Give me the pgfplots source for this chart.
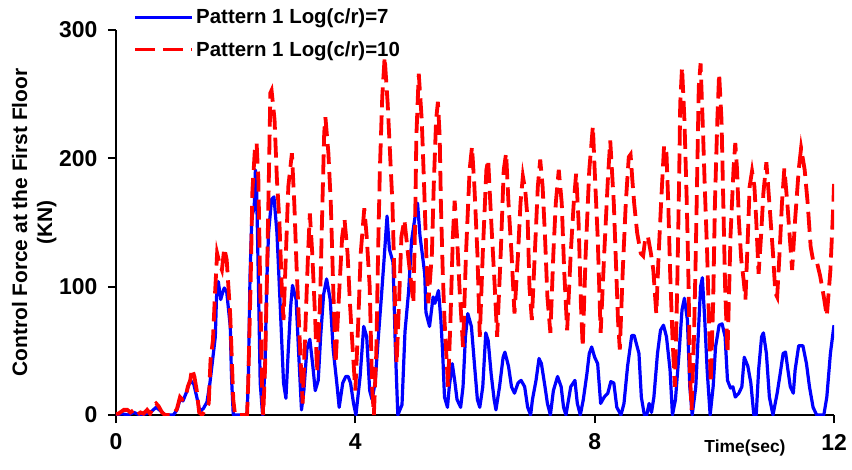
\documentclass[border=0pt]{standalone}
\usepackage{pgfplots}
\pgfplotsset{compat=1.18}
\usepackage{fontspec}
\setmainfont{Liberation Sans}
\definecolor{myblue}{RGB}{0,0,255}
\definecolor{myred}{RGB}{255,0,0}
\begin{document}
\begin{tikzpicture}
\path[use as bounding box] (-116bp,-55bp) rectangle (736bp,415bp);
\begin{axis}[
  scale only axis, width=718bp, height=385bp,
  xmin=0, xmax=12, ymin=0, ymax=300,
  axis lines=left,
  axis line style={-, line width=2.4bp, black},
  xtick={0,4,8,12}, ytick={0,100,200,300},
  tick align=outside, major tick length=8bp,
  tick style={line width=2bp, black},
  /pgf/number format/assume math mode=true,
  ticklabel style={font=\fontsize{23}{26}\selectfont\bfseries},
  xticklabel style={anchor=center, yshift=-19bp},
  yticklabel style={anchor=east, xshift=-7bp},
  xlabel={Time(sec)},
  xlabel style={at={(axis description cs:0.876,-0.085)}, anchor=center, font=\fontsize{17.5}{20}\selectfont\bfseries},
  ylabel={Control Force at the First Floor\\(KN)},
  ylabel style={at={(axis description cs:-0.114,0.5)}, anchor=center, align=center, font=\fontsize{21}{25}\selectfont\bfseries},
  legend style={at={(axis description cs:0.024,1.060)}, anchor=north west, draw=none, fill=none,
    font=\fontsize{20.5}{24}\selectfont\bfseries, row sep=12bp, inner sep=0pt},
  legend cell align=left,
  legend image code/.code={\draw[#1] (0bp,0bp) -- (57bp,0bp);},
]
\addplot[myblue, line width=3.2bp, line join=round] coordinates {
(0,0) (0.1,1) (0.2,0) (0.3,2) (0.4,0) (0.5,1) (0.6,3) (0.67,6) (0.75,3) (0.82,0) (0.96,0)
(1.02,4) (1.07,12) (1.12,11) (1.18,18) (1.24,27) (1.30,24) (1.35,14) (1.40,3) (1.46,5)
(1.52,10) (1.57,25) (1.62,45) (1.66,61) (1.68,92) (1.71,104) (1.75,90) (1.78,95) (1.81,99)
(1.85,96) (1.91,69) (1.93,30) (1.96,0) (2.19,0) (2.21,25) (2.24,108) (2.27,154) (2.31,162)
(2.33,191) (2.35,176) (2.38,104) (2.41,25) (2.45,0) (2.49,37) (2.52,104) (2.55,142) (2.60,168)
(2.64,170) (2.69,142) (2.74,90) (2.80,25) (2.84,13) (2.88,51) (2.92,85) (2.95,101) (3.01,90)
(3.05,51) (3.10,4) (3.14,19) (3.19,51) (3.24,59) (3.29,38) (3.33,19) (3.38,27) (3.42,61)
(3.47,94) (3.52,106) (3.58,90) (3.63,51) (3.69,25) (3.73,6) (3.79,25) (3.84,30) (3.88,30)
(3.92,25) (3.97,9) (4.01,0) (4.08,30) (4.14,69) (4.19,61) (4.24,19) (4.28,12) (4.33,25)
(4.39,64) (4.44,95) (4.48,121) (4.53,155) (4.57,129) (4.63,119) (4.67,51) (4.71,0) (4.78,8)
(4.83,65) (4.89,96) (4.94,136) (5.00,155) (5.04,165) (5.08,140) (5.12,125) (5.16,110) (5.18,80)
(5.24,69) (5.30,92) (5.33,87) (5.39,97) (5.43,74) (5.46,48) (5.49,14) (5.54,6) (5.57,22)
(5.62,40) (5.66,27) (5.70,12) (5.76,6) (5.80,22) (5.84,61) (5.88,79) (5.94,69) (5.99,40)
(6.04,12) (6.08,6) (6.13,22) (6.18,64) (6.22,58) (6.27,32) (6.32,12) (6.35,4) (6.41,22)
(6.47,45) (6.50,49) (6.56,38) (6.61,22) (6.66,17) (6.72,25) (6.77,27) (6.83,22) (6.88,6)
(6.93,0) (6.96,12) (7.02,27) (7.07,44) (7.11,40) (7.17,22) (7.21,9) (7.26,0) (7.31,19)
(7.38,30) (7.44,22) (7.48,6) (7.52,0) (7.60,22) (7.67,27) (7.71,9) (7.76,0) (7.81,12)
(7.87,32) (7.91,48) (7.95,53) (8.00,45) (8.05,40) (8.10,9) (8.16,14) (8.22,17) (8.27,26)
(8.32,25) (8.37,6) (8.44,0) (8.49,9) (8.55,38) (8.62,62) (8.66,62) (8.74,48) (8.78,14)
(8.83,0) (8.87,0) (8.91,9) (8.95,2) (8.99,14) (9.05,48) (9.10,66) (9.15,70) (9.20,61)
(9.26,35) (9.30,0) (9.35,12) (9.41,48) (9.46,82) (9.50,91) (9.55,74) (9.59,22) (9.63,0)
(9.69,22) (9.73,61) (9.77,100) (9.80,107) (9.84,74) (9.88,35) (9.93,0) (9.98,22) (10.02,53)
(10.08,70) (10.13,71) (10.18,61) (10.22,27) (10.27,21) (10.31,22) (10.35,14) (10.41,17)
(10.46,22) (10.50,45) (10.56,38) (10.61,25) (10.66,0) (10.70,0) (10.74,35) (10.79,61)
(10.82,64) (10.87,48) (10.92,14) (10.98,0) (11.05,17) (11.10,32) (11.15,48) (11.19,49)
(11.23,35) (11.27,22) (11.32,17) (11.35,35) (11.41,54) (11.48,54) (11.54,40) (11.59,22)
(11.65,6) (11.71,0) (11.83,0) (11.88,14) (11.94,48) (12.00,70)
};
\addlegendentry{Pattern 1 Log(c/r)=7}
\addplot[myred, line width=3.8bp, dash pattern=on 20bp off 8bp] coordinates {
(0,1) (0.04,1) (0.13,4) (0.19,4) (0.24,2) (0.30,4) (0.35,0) (0.41,2) (0.46,1) (0.52,4)
(0.57,1) (0.63,7) (0.67,9) (0.71,7) (0.77,2) (0.82,0) (0.96,0) (1.02,5) (1.07,14) (1.11,12)
(1.16,13) (1.20,22) (1.24,27) (1.27,36) (1.31,30) (1.35,19) (1.39,2) (1.44,0) (1.49,4)
(1.55,9) (1.58,43) (1.62,58) (1.65,90) (1.69,126) (1.73,118) (1.77,113) (1.81,130) (1.85,121)
(1.91,77) (1.96,12) (1.99,0) (2.19,0) (2.21,25) (2.25,103) (2.28,175) (2.32,206) (2.35,212)
(2.38,183) (2.41,100) (2.44,22) (2.46,0) (2.49,35) (2.52,100) (2.55,173) (2.58,251) (2.60,253)
(2.65,230) (2.69,183) (2.73,152) (2.77,100) (2.80,74) (2.84,126) (2.88,178) (2.94,204)
(2.98,165) (3.02,113) (3.08,48) (3.12,9) (3.16,61) (3.21,126) (3.24,157) (3.28,126) (3.33,74)
(3.36,33) (3.41,87) (3.45,165) (3.48,220) (3.50,232) (3.55,204) (3.59,165) (3.63,100) (3.67,40)
(3.72,87) (3.78,139) (3.82,152) (3.87,126) (3.91,87) (3.96,48) (4.00,19) (4.05,74) (4.09,126)
(4.15,161) (4.19,139) (4.24,100) (4.28,22) (4.31,0) (4.35,48) (4.38,126) (4.41,191) (4.45,248)
(4.49,279) (4.54,243) (4.58,204) (4.62,165) (4.65,113) (4.69,40) (4.73,87) (4.77,139) (4.82,152)
(4.85,139) (4.89,121) (4.94,100) (4.97,87) (5.00,152) (5.02,217) (5.06,266) (5.11,230)
(5.15,178) (5.19,120) (5.22,87) (5.28,126) (5.31,178) (5.35,230) (5.38,244) (5.41,217)
(5.43,165) (5.46,113) (5.49,74) (5.55,22) (5.59,74) (5.63,139) (5.66,167) (5.70,139) (5.74,100)
(5.80,53) (5.85,126) (5.91,191) (5.95,209) (5.99,178) (6.04,126) (6.08,61) (6.13,126) (6.19,191)
(6.22,199) (6.27,152) (6.33,100) (6.37,61) (6.43,126) (6.48,191) (6.52,204) (6.56,165) (6.61,126)
(6.66,79) (6.72,126) (6.76,165) (6.80,186) (6.84,175) (6.88,152) (6.91,100) (6.95,74) (7.00,126)
(7.05,178) (7.09,199) (7.13,178) (7.17,139) (7.21,92) (7.26,64) (7.31,126) (7.35,165) (7.40,191)
(7.45,165) (7.49,113) (7.54,66) (7.60,126) (7.65,165) (7.69,188) (7.73,152) (7.77,87) (7.80,53)
(7.85,126) (7.91,191) (7.97,225) (8.00,191) (8.05,139) (8.10,64) (8.16,126) (8.22,183) (8.26,214)
(8.32,165) (8.36,113) (8.39,74) (8.42,51) (8.47,113) (8.52,165) (8.57,201) (8.60,203) (8.63,183)
(8.66,165) (8.71,142) (8.77,126) (8.81,124) (8.85,139) (8.89,139) (8.94,126) (8.98,113) (9.03,79)
(9.07,126) (9.11,165) (9.16,210) (9.20,204) (9.23,165) (9.26,113) (9.30,61) (9.34,22) (9.38,100)
(9.41,178) (9.43,243) (9.46,271) (9.50,230) (9.54,165) (9.57,100) (9.59,35) (9.62,4) (9.66,61)
(9.69,126) (9.72,204) (9.74,256) (9.77,274) (9.81,222) (9.84,178) (9.88,126) (9.91,74) (9.94,25)
(9.98,87) (10.01,165) (10.05,230) (10.08,266) (10.12,230) (10.15,165) (10.18,100) (10.22,48)
(10.27,139) (10.32,191) (10.35,212) (10.38,191) (10.41,152) (10.45,121) (10.49,105) (10.52,90)
(10.56,139) (10.59,178) (10.63,190) (10.67,178) (10.70,152) (10.74,110) (10.78,139) (10.82,173)
(10.87,197) (10.92,165) (10.98,126) (11.02,95) (11.05,92) (11.09,126) (11.13,165) (11.17,192)
(11.22,165) (11.26,139) (11.30,113) (11.35,152) (11.41,191) (11.45,208) (11.51,191) (11.56,165)
(11.61,131) (11.66,118) (11.72,118) (11.77,108) (11.83,92) (11.88,77) (11.94,113) (11.99,165)
(12.00,180)
};
\addlegendentry{Pattern 1 Log(c/r)=10}
\end{axis}
\end{tikzpicture}
\end{document}
